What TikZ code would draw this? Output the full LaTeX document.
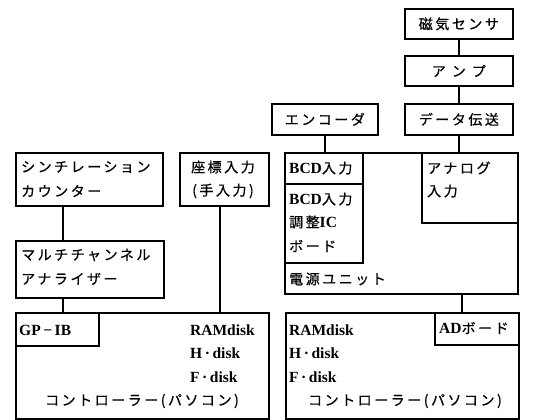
\documentclass[tikz,border=0pt]{standalone}
\usepackage{fontspec}
\setmainfont{Liberation Serif}
\newfontfamily\jp[LetterSpace=18,FakeBold=0.6]{Noto Sans CJK JP}
\begin{document}
\begin{tikzpicture}[x=1pt,y=-1pt,
  box/.style={draw, line width=1.7pt, inner sep=0pt, anchor=north west},
  txt/.style={inner sep=0pt, anchor=west, font=\fontsize{14}{16}\selectfont\jp},
  ctxt/.style={inner sep=0pt, anchor=center, font=\fontsize{14}{16}\selectfont\jp},
  lat/.style={inner sep=0pt, anchor=west, font=\fontsize{15.5}{17}\selectfont\bfseries},
  conn/.style={line width=1.7pt}]
\useasboundingbox (0,0) rectangle (533,420);
% boxes
\node[box, minimum width=108pt, minimum height=30pt] (mag) at (404,8) {};
\node[box, minimum width=108pt, minimum height=30pt] (amp) at (404,55) {};
\node[box, minimum width=108pt, minimum height=31pt] (dt) at (404,103) {};
\node[box, minimum width=106pt, minimum height=31pt] (enc) at (271,103) {};
\node[box, minimum width=147pt, minimum height=53pt] (sci) at (15,152) {};
\node[box, minimum width=89pt, minimum height=53pt] (coord) at (179,152) {};
\node[box, minimum width=233pt, minimum height=141pt] (pwr) at (284,152) {};
\node[box, minimum width=78pt, minimum height=31pt] (bcda) at (284,152) {};
\node[box, minimum width=78pt, minimum height=79pt] (bcdb) at (284,183) {};
\node[box, minimum width=96pt, minimum height=70pt] (ana) at (421,152) {};
\node[box, minimum width=148pt, minimum height=57pt] (mca) at (15,240) {};
\node[box, minimum width=253pt, minimum height=106pt] (lc) at (15,312) {};
\node[box, minimum width=83pt, minimum height=33pt] (gpib) at (15,312) {};
\node[box, minimum width=233pt, minimum height=106pt] (rc) at (285,312) {};
\node[box, minimum width=84pt, minimum height=32pt] (ad) at (434,312) {};
% connectors
\draw[conn] (mag.south) -- (amp.north);
\draw[conn] (amp.south) -- (dt.north);
\draw[conn] (dt.south) -- (dt.south |- pwr.north);
\draw[conn] (enc.south) -- (enc.south |- pwr.north);
\draw[conn] ([xshift=48pt]sci.south west) -- ([xshift=48pt]mca.north west);
\draw[conn] ([xshift=48pt]mca.south west) -- ([xshift=48pt]gpib.north west);
\draw[conn] ([xshift=-4.5pt]coord.south) -- ([xshift=-4.5pt]coord.south |- lc.north);
\draw[conn] ([xshift=178pt]pwr.south west) -- ([xshift=178pt]pwr.south west |- rc.north);
% texts
\node[ctxt] (tmag) at (mag.center) {磁気センサ};
\node[ctxt] (tamp) at (amp.center) {ア\hspace{6pt}ン\hspace{6pt}プ};
\node[ctxt] (tdt) at (dt.center) {データ伝送};
\node[ctxt] (tenc) at (enc.center) {エンコーダ};
\node[txt] (tsci1) at (21,167) {シンチレーション};
\node[txt] (tsci2) at (21,191) {カウンター};
\node[ctxt] (tco1) at (223,167) {座標入力};
\node[ctxt] (tco2) at (223,191) {(手入力)};
\node[txt] (tbcd1) at (289,168) {{\fontsize{15.5}{17}\selectfont\bfseries\rmfamily BCD}入力};
\node[txt] (tbcd2) at (289,199) {{\fontsize{15.5}{17}\selectfont\bfseries\rmfamily BCD}入力};
\node[txt] (tbcd3) at (289,222) {調整{\fontsize{15.5}{17}\selectfont\bfseries\rmfamily IC}};
\node[txt] (tbcd4) at (289,246) {ボード};
\node[txt] (tpwr) at (289,279) {電源ユニット};
\node[txt] (tana1) at (427,168) {アナログ};
\node[txt] (tana2) at (427,191) {入力};
\node[txt] (tmca1) at (21,255) {マルチチャンネル};
\node[txt] (tmca2) at (21,279) {アナライザー};
\node[lat] (tgp) at (19,330) {GP\,{\normalfont\bfseries\char"2212}\,IB};
\node[lat] (tl1) at (190,330) {RAMdisk};
\node[lat] (tl2) at (190,353) {H\,·\,disk};
\node[lat] (tl3) at (190,377) {F\,·\,disk};
\node[ctxt] (tlc) at (142,401) {コントローラー(パソコン)};
\node[lat] (tr1) at (289,330) {RAMdisk};
\node[lat] (tr2) at (289,353) {H\,·\,disk};
\node[lat] (tr3) at (289,377) {F\,·\,disk};
\node[txt] (tad) at (439,328) {{\fontsize{15.5}{17}\selectfont\bfseries\rmfamily AD}ボード};
\node[ctxt] (trc) at (405,401) {コントローラー(パソコン)};
\end{tikzpicture}
\end{document}
